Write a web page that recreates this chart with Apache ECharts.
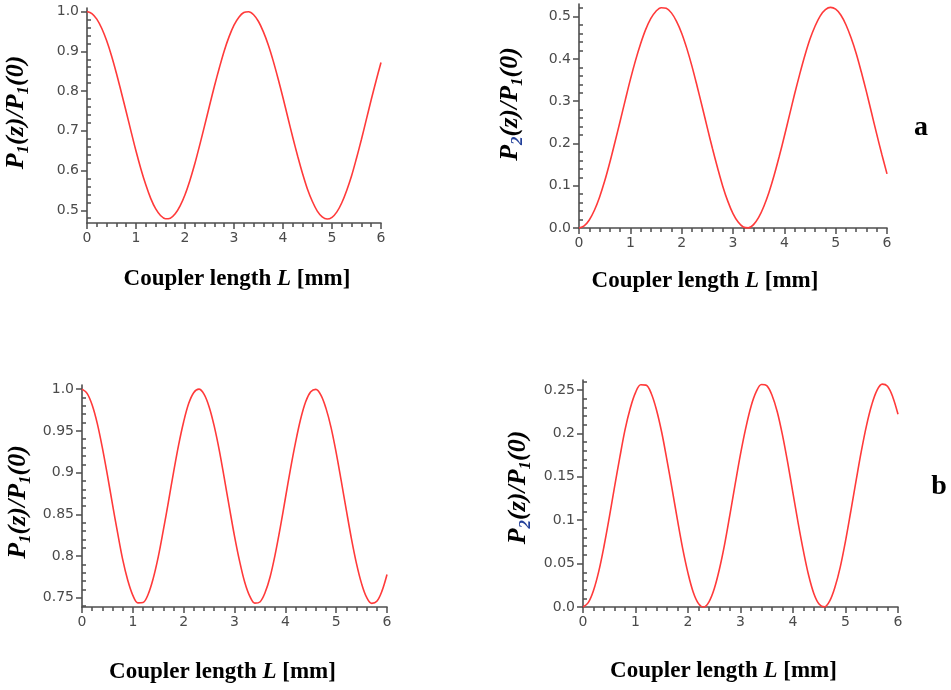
<!DOCTYPE html>
<html><head><meta charset="utf-8">
<script src="https://cdn.jsdelivr.net/npm/echarts@6/dist/echarts.min.js"></script>
<style>html,body{margin:0;padding:0;background:#fff}#c{width:951px;height:690px}</style>
</head><body><div id="c"></div>
<script>
// ---- data ----
const couplerLength = [0.0,0.1,0.2,0.3,0.4,0.5,0.6,0.7,0.8,0.9,1.0,1.1,1.2,1.3,1.4,1.5,1.6,1.7,1.8,1.9,2.0,2.1,2.2,2.3,2.4,2.5,2.6,2.7,2.8,2.9,3.0,3.1,3.2,3.3,3.4,3.5,3.6,3.7,3.8,3.9,4.0,4.1,4.2,4.3,4.4,4.5,4.6,4.7,4.8,4.9,5.0,5.1,5.2,5.3,5.4,5.5,5.6,5.7,5.8,5.9,6.0];
// panel a
const p1a = [1.000,0.995,0.981,0.958,0.927,0.889,0.845,0.797,0.748,0.698,
  0.649,0.604,0.564,0.530,0.504,0.487,0.4787,0.4801,0.491,0.511,
  0.539,0.575,0.617,0.664,0.713,0.763,0.812,0.858,0.901,0.937,
  0.966,0.986,0.9976,0.9996,0.992,0.975,0.949,0.916,0.876,0.831,
  0.783,0.733,0.683,0.636,0.592,0.553,0.522,0.498,0.4834,0.4780,
  0.4823,0.496,0.519,0.550,0.587,0.631,0.678,0.728,0.778,0.826,
  0.872];
const p2a = [0.000,0.005,0.019,0.042,0.073,0.111,0.155,0.203,0.252,0.302,
  0.351,0.396,0.436,0.470,0.496,0.513,0.5213,0.5199,0.509,0.489,
  0.461,0.425,0.383,0.336,0.287,0.237,0.188,0.142,0.099,0.063,
  0.034,0.014,0.0024,0.0004,0.008,0.025,0.051,0.084,0.124,0.169,
  0.217,0.267,0.317,0.364,0.408,0.447,0.478,0.502,0.5166,0.5220,
  0.5177,0.504,0.481,0.450,0.413,0.369,0.322,0.272,0.222,0.174,
  0.128];
// panel b
const p1b = [1.000,0.995,0.981,0.959,0.930,0.897,0.862,0.828,0.796,0.771,
  0.753,0.7440,0.7444,0.754,0.773,0.799,0.831,0.865,0.900,0.933,
  0.961,0.983,0.9961,1.000,0.994,0.979,0.956,0.927,0.893,0.858,
  0.824,0.794,0.769,0.752,0.7436,0.7450,0.756,0.775,0.802,0.834,
  0.869,0.904,0.936,0.964,0.985,0.9969,0.9998,0.993,0.977,0.954,
  0.924,0.890,0.855,0.821,0.791,0.767,0.7504,0.7433,0.7458,0.758,
  0.778];
const p2b = [0.000,0.005,0.019,0.041,0.070,0.103,0.138,0.172,0.204,0.229,
  0.247,0.2560,0.2556,0.246,0.227,0.201,0.169,0.135,0.100,0.067,
  0.039,0.017,0.0039,0.000,0.006,0.021,0.044,0.073,0.107,0.142,
  0.176,0.206,0.231,0.248,0.2564,0.2550,0.244,0.225,0.198,0.166,
  0.131,0.096,0.064,0.036,0.015,0.0031,0.0002,0.007,0.023,0.046,
  0.076,0.110,0.145,0.179,0.209,0.233,0.2496,0.2567,0.2542,0.242,
  0.222];
// tick values and labels
const xTickLabels = ['0','1','2','3','4','5','6'];
const yTicksA1 = [0.5,0.6,0.7,0.8,0.9,1.0];
const yLabelsA1 = ['0.5','0.6','0.7','0.8','0.9','1.0'];
const yTicksA2 = [0,0.1,0.2,0.3,0.4,0.5];
const yLabelsA2 = ['0.0','0.1','0.2','0.3','0.4','0.5'];
const yTicksB1 = [0.75,0.8,0.85,0.9,0.95,1.0];
const yLabelsB1 = ['0.75','0.8','0.85','0.9','0.95','1.0'];
const yTicksB2 = [0,0.05,0.1,0.15,0.2,0.25];
const yLabelsB2 = ['0.0','0.05','0.1','0.15','0.2','0.25'];
const xTitle = 'Coupler length {L|L} [mm]';
const panelLetters = ['a','b'];

// ---- layout / style ----
const panels = [
  {grid:{left:87, top:8, width:294, height:215}, ymin:0.468, ymax:1.009, ticks:yTicksA1, labels:yLabelsA1, data:p1a, sub:'1',
   yGap:55, yPad:[0,0,0,6], xGap:45, xPad:[0,0,0,6]},
  {grid:{left:579, top:4, width:308, height:224}, ymin:0, ymax:0.53, ticks:yTicksA2, labels:yLabelsA2, data:p2a, sub:'2',
   yGap:53, yPad:[0,0,0,24], xGap:42, xPad:[0,56,0,0]},
  {grid:{left:82, top:385, width:305, height:222}, ymin:0.739, ymax:1.005, ticks:yTicksB1, labels:yLabelsB1, data:p1b, sub:'1',
   yGap:48, yPad:[0,12,0,0], xGap:54, xPad:[0,24,0,0]},
  {grid:{left:583, top:380, width:315, height:227}, ymin:0, ymax:0.2615, ticks:yTicksB2, labels:yLabelsB2, data:p2b, sub:'2',
   yGap:49, yPad:[0,0,0,12], xGap:53, xPad:[0,34,0,0]}
];
const AX = '#4d4d4d';
const LBL = {color:'#4a4a4a', fontFamily:'DejaVu Sans', fontSize:14};
const serif = 'Liberation Serif';

function minorsOf(ticks, lo, hi){
  const step = (ticks[1]-ticks[0])/5, out = [];
  for (let v = ticks[0]-step; v > lo + 1e-9; v -= step) out.push(+v.toFixed(4));
  for (let i=0;i<ticks.length;i++){
    for (let k=1;k<5;k++){
      const v = +(ticks[i]+k*step).toFixed(4);
      if (v < hi - 1e-9) out.push(v);
    }
  }
  return out;
}

const grid=[], xAxis=[], yAxis=[], series=[];
panels.forEach((p,i)=>{
  grid.push(p.grid);
  xAxis.push({
    type:'value', gridIndex:i, min:0, max:6, interval:1,
    name:xTitle, nameLocation:'middle', nameGap:p.xGap,
    nameTextStyle:{fontFamily:serif, fontWeight:'bold', fontSize:23, color:'#000', padding:p.xPad,
      rich:{L:{fontFamily:serif, fontWeight:'bold', fontStyle:'italic', fontSize:23, color:'#000'}}},
    axisLine:{show:true, onZero:false, lineStyle:{color:AX, width:1.6}},
    axisTick:{show:true, length:6, lineStyle:{color:AX, width:1.5}},
    minorTick:{show:true, splitNumber:5, length:4, lineStyle:{color:AX, width:1.5}},
    splitLine:{show:false}, minorSplitLine:{show:false},
    axisLabel:Object.assign({margin:8, formatter:(v)=>xTickLabels[Math.round(v)]}, LBL)
  });
  const subStyle = {fontFamily:serif, fontWeight:'bold', fontStyle:'italic', fontSize:17,
    color: p.sub==='2' ? '#23409a' : '#000', verticalAlign:'bottom', lineHeight:32};
  yAxis.push({
    type:'value', gridIndex:i, min:p.ymin, max:p.ymax,
    name:'{i|P}{s|'+p.sub+'}{i|(z)/P}{t|1}{i|(0)}', nameLocation:'middle', nameGap:p.yGap,
    nameTextStyle:{padding:p.yPad, rich:{
      i:{fontFamily:serif, fontWeight:'bold', fontStyle:'italic', fontSize:26, color:'#000', lineHeight:32},
      s:subStyle,
      t:Object.assign({}, subStyle, {color:'#000'})
    }},
    axisLine:{show:true, onZero:false, lineStyle:{color:AX, width:1.6}},
    axisTick:{show:true, length:6, customValues:p.ticks, lineStyle:{color:AX, width:1.5}},
    splitLine:{show:false},
    axisLabel:Object.assign({margin:8, customValues:p.ticks,
      formatter:(v)=>{const k=p.ticks.findIndex(t=>Math.abs(t-v)<1e-6); return k>=0?p.labels[k]:'';}}, LBL)
  });
  yAxis.push({
    type:'value', gridIndex:i, min:p.ymin, max:p.ymax,
    axisLine:{show:false},
    axisTick:{show:true, length:4, customValues:minorsOf(p.ticks,p.ymin,p.ymax), lineStyle:{color:AX, width:1.5}},
    axisLabel:{show:false}, splitLine:{show:false}
  });
  series.push({
    type:'line', xAxisIndex:i, yAxisIndex:2*i, showSymbol:false, silent:true, smooth:0.35,
    lineStyle:{color:'#ff3a3a', width:1.6}, clip:false,
    data:couplerLength.map((x,j)=>[x, p.data[j]])
  });
});

const chart = echarts.init(document.getElementById('c'), null, {renderer:'canvas'});
chart.setOption({
  backgroundColor:'#fff', animation:false,
  grid, xAxis, yAxis, series,
  graphic:[
    {type:'text', x:921, y:128, style:{text:panelLetters[0], font:'bold 28px "Liberation Serif"', fill:'#000', align:'center', verticalAlign:'middle'}},
    {type:'text', x:939, y:487, style:{text:panelLetters[1], font:'bold 28px "Liberation Serif"', fill:'#000', align:'center', verticalAlign:'middle'}}
  ]
});
</script></body></html>
